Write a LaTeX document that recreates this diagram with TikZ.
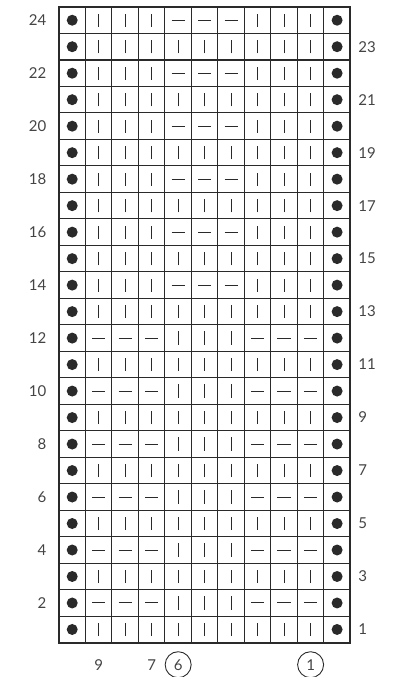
\documentclass[tikz,border=0pt]{standalone}
\usepackage{fontspec}
\setmainfont{Lato}
\usetikzlibrary{positioning}
\definecolor{chartgrey}{HTML}{2A2A2A}
\definecolor{labelgrey}{HTML}{444444}

\begin{document}
\begin{tikzpicture}[x=26.5pt,y=26.5pt,
    gridline/.style={chartgrey,line width=1.1pt},
    knit/.style={line width=1pt,chartgrey},
    purl/.style={line width=1pt,chartgrey},
    rowlabel/.style={text=labelgrey,font=\fontsize{15}{18}\selectfont,inner sep=0pt},
    stlabel/.style={text=labelgrey,font=\fontsize{15}{18}\selectfont,inner sep=1pt,minimum size=26pt},
    circled/.style={stlabel,circle,draw=chartgrey,line width=0.9pt}]
    \useasboundingbox (-2.226,-1.294) rectangle (12.642,24.264);

    % grid
    \foreach \c in {1,...,10}
        \draw[gridline] (\c,0) -- (\c,24);
    \foreach \r in {1,...,23}
        \draw[gridline] (0,\r) -- (11,\r);
    \draw[chartgrey,line width=2pt] (0,0) rectangle (11,24);

    % edge stitches
    \foreach \r in {1,...,24} {
        \fill[chartgrey] (0.5,\r-0.5) circle (5.5pt);
        \fill[chartgrey] (10.5,\r-0.5) circle (5.5pt);
    }

    % right side rows: knit all
    \foreach \r in {1,3,...,23}
        \foreach \c in {1,...,9}
            \draw[knit] (\c+0.5,\r-0.75) -- (\c+0.5,\r-0.25);

    % wrong side rows 2-12
    \foreach \r in {2,4,...,12} {
        \foreach \c in {1,2,3,7,8,9}
            \draw[purl] (\c+0.25,\r-0.5) -- (\c+0.75,\r-0.5);
        \foreach \c in {4,5,6}
            \draw[knit] (\c+0.5,\r-0.75) -- (\c+0.5,\r-0.25);
    }

    % wrong side rows 14-24
    \foreach \r in {14,16,...,24} {
        \foreach \c in {1,2,3,7,8,9}
            \draw[knit] (\c+0.5,\r-0.75) -- (\c+0.5,\r-0.25);
        \foreach \c in {4,5,6}
            \draw[purl] (\c+0.25,\r-0.5) -- (\c+0.75,\r-0.5);
    }

    % row numbers
    \foreach \r in {2,4,...,24}
        \node[rowlabel,anchor=east] (r\r) at (-0.47,\r-0.5) {\r};
    \foreach \r in {1,3,...,23}
        \node[rowlabel,anchor=west] (r\r) at (11.3,\r-0.5) {\r};

    % stitch numbers
    \node[stlabel] (s9) at (1.5,-0.83) {9};
    \node[stlabel] (s7) at (3.5,-0.83) {7};
    \node[circled] (s6) at (4.5,-0.83) {6};
    \node[circled] (s1) at (9.5,-0.83) {1};
\end{tikzpicture}
\end{document}
